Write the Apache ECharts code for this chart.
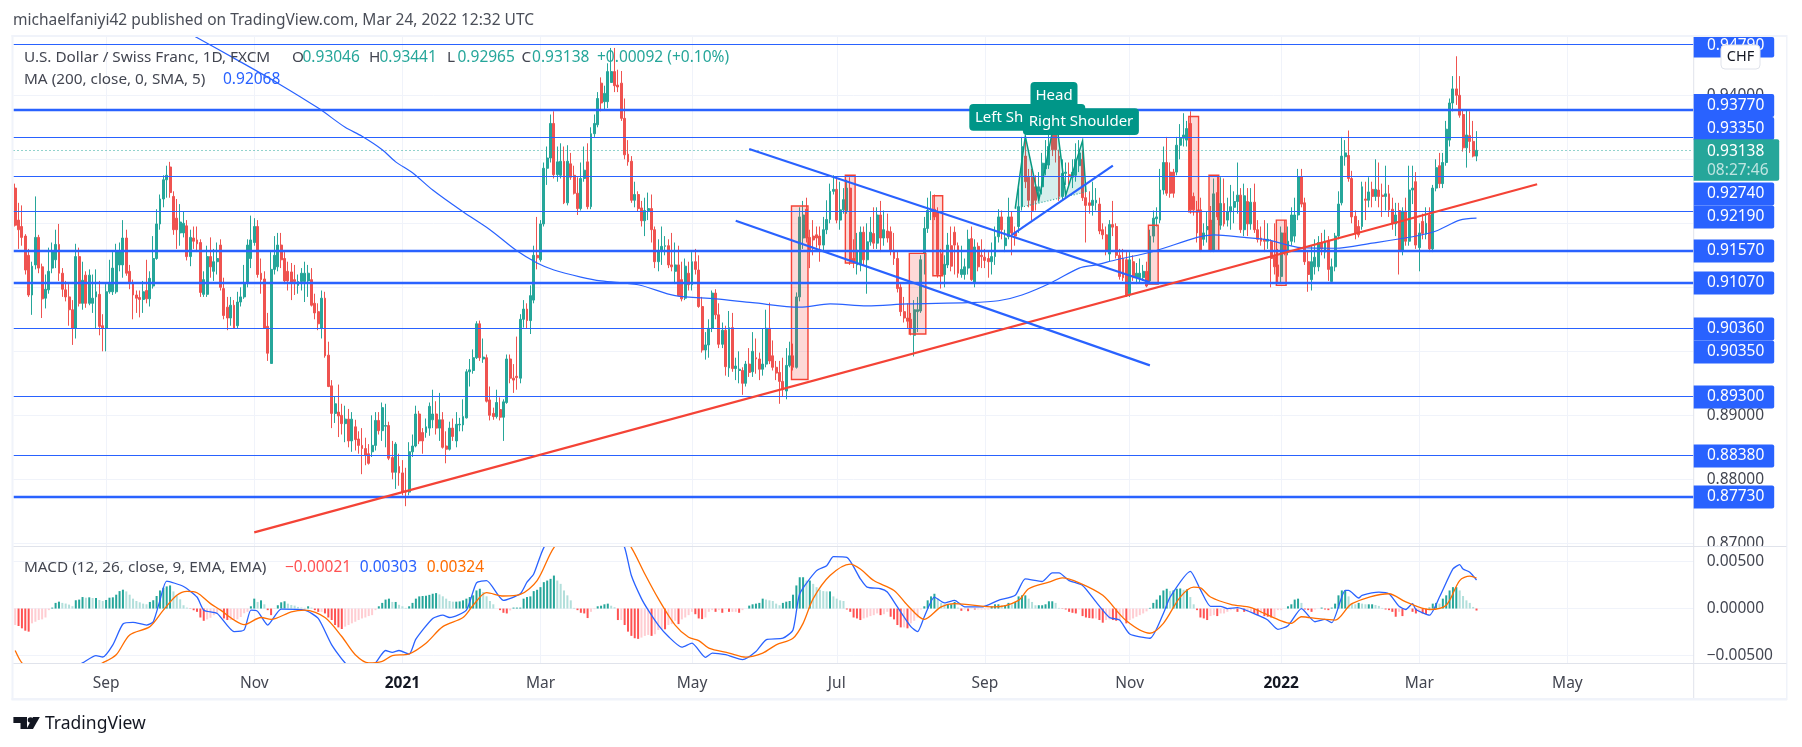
<!DOCTYPE html>
<html>
<head>
<meta charset="utf-8">
<title>USDCHF</title>
<script src="https://cdn.jsdelivr.net/npm/echarts@6/dist/echarts.min.js"></script>
<style>
html, body { margin: 0; padding: 0; background: #fff; }
#main { width: 1802px; height: 747px; }
</style>
</head>
<body>
<div id="main"></div>
<script>
// daily candles in pips (price x 10000): open, high, low, close. index 0 = 24 Jul 2020
var candles = [
[9255,9262,9195,9197],[9205,9232,9160,9190],[9195,9228,9165,9178],[9180,9183,9120,9127],[9150,9160,9085,9088],[9088,9140,9057,9133],[9135,9242,9128,9178],[9178,9182,9122,9130],[9132,9137,9052,9082],[9083,9120,9067,9097],
[9096,9162,9090,9125],[9130,9170,9122,9156],[9143,9190,9130,9167],[9167,9199,9110,9122],[9122,9130,9085,9097],[9096,9110,9078,9085],[9085,9105,9040,9065],[9065,9080,9010,9036],[9036,9168,9020,9148],[9148,9162,9070,9075],
[9075,9140,9065,9111],[9119,9125,9068,9075],[9075,9128,9072,9119],[9075,9120,9060,9083],[9085,9128,9036,9093],[9089,9110,9025,9039],[9040,9058,9000,9036],[9036,9105,9000,9093],[9093,9143,9090,9107],[9093,9155,9088,9130],
[9093,9168,9090,9157],[9135,9170,9125,9157],[9135,9205,9115,9177],[9177,9190,9118,9122],[9125,9135,9097,9107],[9107,9112,9050,9088],[9088,9095,9060,9083],[9084,9095,9053,9081],[9081,9110,9060,9093],[9095,9143,9075,9082],
[9082,9125,9070,9114],[9102,9180,9098,9145],[9145,9222,9143,9199],[9199,9245,9190,9238],[9238,9275,9225,9268],[9268,9290,9240,9275],[9288,9296,9240,9248],[9242,9250,9182,9190],[9208,9238,9160,9190],[9185,9230,9165,9202],
[9185,9218,9178,9200],[9196,9205,9142,9148],[9148,9190,9133,9178],[9177,9195,9160,9172],[9174,9195,9155,9168],[9170,9175,9085,9092],[9089,9125,9085,9112],[9089,9165,9085,9148],[9148,9178,9115,9132],[9125,9160,9110,9140],
[9140,9170,9120,9145],[9166,9175,9095,9100],[9098,9115,9050,9056],[9069,9085,9033,9052],[9052,9085,9040,9072],[9072,9080,9035,9036],[9040,9093,9035,9077],[9077,9100,9070,9085],[9085,9135,9082,9107],[9106,9175,9100,9166],
[9145,9212,9130,9174],[9170,9208,9165,9195],[9195,9205,9115,9120],[9122,9145,9090,9112],[9113,9125,9036,9036],[9039,9060,8985,8997],[8981,9155,8981,9128],[9128,9180,9120,9150],[9132,9185,9125,9166],[9166,9185,9130,9143],
[9145,9155,9105,9110],[9125,9140,9095,9110],[9124,9138,9080,9108],[9112,9135,9088,9109],[9103,9120,9090,9109],[9109,9130,9095,9122],[9109,9140,9077,9122],[9110,9135,9085,9122],[9112,9130,9070,9072],[9075,9090,9050,9060],
[9062,9075,9033,9043],[9036,9095,9020,9083],[9083,9093,8990,8993],[8994,9015,8944,8945],[8946,8955,8880,8903],[8903,8930,8888,8918],[8905,8948,8866,8899],[8900,8918,8870,8887],[8887,8915,8858,8894],[8894,8910,8850,8860],
[8860,8905,8843,8894],[8882,8893,8845,8862],[8863,8875,8840,8853],[8853,8880,8808,8848],[8848,8865,8822,8838],[8840,8855,8823,8825],[8843,8900,8835,8853],[8853,8905,8845,8892],[8892,8905,8870,8876],[8876,8920,8860,8912],
[8883,8918,8850,8884],[8884,8890,8830,8833],[8834,8860,8800,8811],[8811,8858,8785,8855],[8820,8840,8790,8810],[8810,8830,8775,8780],[8782,8818,8758,8780],[8780,8858,8775,8843],[8843,8870,8835,8852],[8852,8915,8850,8902],
[8902,8907,8855,8860],[8873,8880,8840,8860],[8873,8895,8865,8882],[8880,8920,8868,8914],[8893,8940,8880,8902],[8902,8922,8870,8880],[8880,8935,8860,8893],[8893,8905,8848,8850],[8852,8875,8825,8847],[8847,8890,8845,8880],
[8880,8895,8860,8867],[8860,8905,8850,8886],[8885,8896,8875,8886],[8885,8925,8875,8898],[8896,8972,8895,8968],[8968,8988,8945,8971],[8970,9003,8965,8990],[8990,9047,8988,9043],[9043,9048,8985,8990],[8988,9020,8982,8991],
[8990,8995,8920,8922],[8924,8945,8892,8900],[8903,8912,8893,8898],[8898,8940,8895,8920],[8909,8928,8892,8897],[8897,8925,8860,8921],[8920,8995,8918,8988],[8988,8995,8950,8958],[8958,8980,8935,8955],[8961,9023,8940,8959],
[8958,9058,8950,9050],[9050,9080,9037,9066],[9066,9075,9035,9048],[9048,9103,9027,9087],[9080,9165,9075,9150],[9150,9210,9128,9146],[9143,9205,9140,9199],[9199,9295,9195,9286],[9286,9320,9260,9302],[9302,9370,9295,9356],
[9356,9375,9270,9276],[9276,9320,9265,9296],[9275,9325,9270,9297],[9297,9320,9230,9232],[9232,9322,9228,9297],[9293,9310,9268,9272],[9275,9290,9245,9247],[9247,9272,9213,9223],[9223,9295,9220,9270],[9270,9320,9265,9283],
[9296,9325,9222,9226],[9226,9350,9222,9340],[9340,9370,9335,9356],[9354,9405,9350,9395],[9419,9428,9375,9388],[9390,9415,9378,9403],[9390,9450,9380,9437],[9420,9474,9420,9437],[9437,9474,9405,9415],[9416,9440,9405,9413],
[9419,9438,9360,9364],[9364,9395,9300,9307],[9308,9330,9290,9296],[9297,9305,9232,9236],[9236,9265,9225,9245],[9245,9250,9218,9223],[9224,9235,9195,9204],[9204,9240,9180,9220],[9220,9248,9205,9223],[9223,9245,9170,9190],
[9190,9195,9130,9140],[9140,9175,9125,9156],[9156,9195,9135,9164],[9164,9180,9150,9165],[9165,9175,9130,9135],[9135,9185,9125,9132],[9125,9170,9105,9135],[9135,9165,9086,9087],[9112,9140,9078,9082],[9083,9145,9080,9133],
[9122,9140,9095,9104],[9104,9155,9095,9140],[9140,9160,9120,9128],[9127,9150,9068,9070],[9070,9085,8998,9002],[9002,9030,8987,9010],[9010,9050,8990,9036],[9036,9095,9030,9091],[9091,9097,9050,9057],[9057,9075,9005,9011],
[9011,9045,9005,9033],[9033,9040,8962,8976],[8974,9063,8960,9037],[9037,9060,8968,8973],[8973,8990,8955,8977],[8970,9000,8950,8972],[8970,8975,8932,8950],[8950,8985,8945,8980],[8980,9005,8960,8967],[8968,9030,8960,9000],
[8990,9020,8965,8988],[8988,8998,8955,8972],[8972,9035,8962,8980],[8980,9065,8975,9036],[9036,9076,8980,8985],[8993,9017,8970,8975],[8975,8985,8955,8966],[8967,8985,8918,8953],[8953,8990,8930,8940],[8938,9005,8925,8978],
[8978,9015,8975,8993],[8993,9012,8970,8975],[8975,9092,8973,9085],[9085,9225,9078,9210],[9177,9235,9160,9213],[9222,9240,9170,9177],[9178,9190,9130,9158],[9180,9205,9150,9174],[9182,9195,9162,9177],[9180,9195,9140,9166],
[9166,9210,9155,9190],[9190,9236,9183,9206],[9206,9262,9200,9250],[9250,9275,9245,9253],[9253,9272,9200,9205],[9205,9265,9190,9221],[9221,9255,9215,9237],[9220,9268,9215,9255],[9255,9272,9135,9140],[9145,9175,9130,9140],
[9135,9185,9120,9158],[9135,9195,9125,9186],[9186,9195,9135,9143],[9143,9200,9090,9171],[9171,9210,9165,9186],[9184,9225,9160,9169],[9169,9225,9160,9213],[9213,9235,9155,9177],[9177,9220,9165,9190],[9188,9215,9170,9177],
[9187,9195,9150,9156],[9158,9185,9135,9145],[9145,9155,9092,9098],[9100,9105,9055,9062],[9062,9085,9045,9052],[9052,9075,9035,9047],[9050,9060,9025,9036],[9025,9080,8992,9065],[9062,9085,9030,9065],[9063,9150,9060,9143],
[9153,9210,9120,9192],[9192,9240,9185,9220],[9220,9250,9205,9222],[9222,9245,9205,9210],[9218,9225,9115,9120],[9152,9160,9098,9120],[9120,9150,9100,9136],[9135,9185,9130,9166],[9165,9195,9125,9133],[9186,9195,9120,9166],
[9165,9170,9115,9122],[9120,9165,9115,9128],[9120,9145,9112,9132],[9130,9190,9120,9175],[9176,9195,9110,9112],[9108,9175,9100,9163],[9164,9170,9125,9132],[9150,9175,9130,9148],[9147,9160,9130,9142],[9145,9155,9115,9140],
[9140,9170,9120,9148],[9148,9195,9135,9179],[9179,9222,9170,9210],[9210,9220,9175,9190],[9165,9190,9155,9177],[9179,9240,9175,9210],[9210,9218,9150,9185],[9185,9195,9165,9180],[9195,9255,9185,9226],[9226,9335,9220,9320],
[9305,9330,9255,9265],[9272,9285,9225,9236],[9272,9285,9205,9220],[9257,9275,9220,9236],[9250,9280,9235,9257],[9257,9310,9245,9294],[9285,9330,9275,9294],[9291,9340,9285,9320],[9356,9369,9305,9315],[9340,9352,9295,9315],
[9305,9315,9235,9242],[9242,9300,9236,9278],[9278,9295,9260,9280],[9276,9295,9260,9273],[9272,9300,9255,9280],[9275,9325,9265,9300],[9290,9330,9280,9310],[9300,9315,9235,9240],[9240,9258,9170,9228],[9232,9250,9215,9228],
[9228,9265,9212,9236],[9232,9255,9220,9236],[9230,9240,9183,9188],[9190,9200,9175,9182],[9182,9195,9150,9158],[9152,9205,9140,9198],[9198,9235,9180,9194],[9195,9200,9145,9150],[9150,9160,9112,9117],[9145,9160,9110,9115],
[9143,9155,9085,9088],[9090,9155,9085,9143],[9140,9150,9110,9115],[9115,9138,9105,9122],[9115,9145,9108,9122],[9115,9135,9110,9125],[9125,9140,9100,9102],[9110,9190,9108,9180],[9180,9220,9170,9208],[9207,9225,9195,9210],
[9205,9285,9200,9252],[9252,9320,9245,9295],[9295,9335,9243,9247],[9280,9295,9240,9247],[9280,9285,9240,9247],[9280,9335,9275,9322],[9322,9355,9300,9333],[9333,9372,9320,9338],[9330,9360,9320,9348],[9356,9375,9215,9221],
[9242,9248,9212,9221],[9221,9235,9170,9185],[9221,9240,9155,9158],[9175,9200,9165,9185],[9190,9218,9170,9195],[9205,9227,9155,9158],[9157,9270,9155,9246],[9248,9275,9205,9210],[9197,9272,9190,9231],[9231,9270,9195,9199],
[9205,9240,9195,9218],[9218,9260,9190,9226],[9225,9250,9200,9234],[9234,9295,9215,9244],[9244,9255,9185,9190],[9190,9262,9180,9243],[9234,9255,9180,9199],[9199,9255,9190,9233],[9233,9262,9185,9190],[9190,9205,9170,9175],
[9177,9195,9165,9172],[9175,9205,9155,9172],[9172,9200,9160,9175],[9172,9175,9100,9145],[9148,9200,9120,9132],[9135,9160,9105,9117],[9117,9195,9105,9185],[9185,9205,9150,9155],[9155,9195,9150,9172],[9172,9225,9165,9213],
[9180,9240,9170,9213],[9213,9285,9205,9273],[9273,9285,9225,9230],[9232,9240,9135,9140],[9140,9155,9093,9120],[9112,9165,9095,9140],[9132,9175,9120,9147],[9132,9180,9125,9170],[9170,9185,9150,9160],[9155,9190,9145,9172],
[9172,9180,9110,9128],[9109,9145,9107,9132],[9132,9185,9125,9180],[9180,9250,9175,9230],[9232,9335,9228,9305],[9304,9330,9290,9310],[9306,9345,9265,9270],[9270,9282,9200,9210],[9211,9220,9175,9185],[9195,9205,9178,9182],
[9195,9265,9190,9257],[9238,9265,9205,9236],[9236,9272,9225,9249],[9253,9265,9225,9242],[9242,9300,9235,9253],[9252,9295,9225,9242],[9244,9262,9210,9242],[9242,9290,9220,9246],[9246,9260,9210,9221],[9222,9240,9190,9200],
[9199,9232,9180,9213],[9220,9232,9120,9158],[9158,9225,9150,9219],[9219,9240,9165,9172],[9172,9290,9165,9252],[9252,9290,9230,9255],[9265,9280,9160,9166],[9162,9200,9125,9185],[9203,9215,9175,9184],[9183,9225,9175,9200],
[9213,9225,9155,9160],[9160,9260,9155,9255],[9255,9300,9250,9287],[9290,9310,9255,9262],[9262,9310,9255,9295],[9295,9360,9290,9347],[9330,9395,9320,9388],[9388,9430,9375,9410],[9410,9461,9385,9400],[9400,9430,9365,9369],
[9370,9378,9312,9318],[9318,9378,9287,9338],[9337,9375,9310,9328],[9328,9360,9303,9305],[9305,9344,9297,9314]
];

// 200 day moving average: [bar index, pips]
var maPoints = [[53,9493],[66,9455],[78,9419],[90,9380],[98,9350],[103,9336],[109,9315],[113,9296],[118,9279],[124,9252],[133,9218],[141,9190],[149,9157],[155,9138],[160,9127],[168,9116],[174,9110],[185,9104],[196,9087],[208,9082],[219,9076],[233,9069],[242,9074],[253,9071],[265,9074],[283,9076],[292,9079],[299,9088],[308,9108],[316,9130],[321,9135],[327,9143],[338,9156],[351,9178],[356,9182],[365,9178],[372,9174],[382,9162],[392,9161],[403,9169],[415,9179],[422,9188],[429,9205],[434,9208]];

// MACD in 1e-5 units
var macdPoints = [[0,-900],[10,-760],[20,-577],[24,-500],[26,-514],[29,-385],[32,-164],[35,-147],[39,-175],[41,-140],[43,87],[45,290],[50,234],[54,122],[56,-17],[60,-52],[65,-245],[68,-227],[70,-17],[72,-30],[75,-175],[79,-7],[86,-17],[90,-105],[94,-385],[98,-577],[103,-700],[107,-577],[110,-445],[112,-465],[114,-445],[117,-483],[119,-325],[124,-105],[127,-70],[129,-95],[134,-17],[137,273],[140,297],[145,87],[150,157],[152,280],[154,367],[157,647],[165,1050],[172,1100],[177,950],[181,647],[183,350],[186,105],[188,-17],[191,-175],[194,-297],[198,-410],[201,-367],[205,-518],[207,-472],[211,-490],[216,-542],[220,-455],[223,-332],[228,-315],[231,-227],[233,157],[238,402],[241,455],[243,550],[247,542],[251,315],[253,227],[257,210],[259,175],[262,17],[266,-192],[268,-245],[270,-87],[273,122],[276,60],[279,87],[282,17],[287,17],[292,87],[297,140],[300,315],[305,287],[308,378],[310,378],[313,297],[317,245],[321,70],[325,-95],[328,-122],[331,-270],[337,-315],[341,-52],[343,122],[349,395],[352,200],[355,24],[358,24],[360,0],[363,10],[369,-70],[372,-122],[375,-220],[378,-182],[382,0],[386,-140],[389,-115],[391,-150],[395,192],[396,192],[399,112],[400,140],[405,175],[408,157],[411,24],[413,-10],[415,52],[416,-10],[420,-70],[423,122],[427,420],[429,465],[430,420],[432,385],[434,303]];
var signalPoints = [[0,-445],[2,-577],[8,-800],[18,-720],[26,-577],[30,-490],[34,-280],[40,-192],[44,-17],[48,140],[51,182],[54,168],[58,52],[61,-17],[65,-122],[68,-171],[73,-95],[76,-115],[82,-35],[86,-17],[92,-95],[97,-297],[101,-490],[105,-577],[109,-560],[112,-500],[117,-480],[122,-367],[127,-192],[133,-95],[136,35],[140,168],[145,133],[150,150],[155,297],[160,647],[168,950],[176,1000],[183,647],[187,367],[191,105],[196,-175],[200,-305],[203,-340],[206,-420],[212,-472],[217,-515],[222,-472],[226,-385],[231,-315],[234,-157],[237,105],[242,350],[248,472],[251,420],[255,297],[261,192],[265,35],[270,-115],[275,17],[279,52],[291,17],[298,87],[301,210],[307,280],[311,325],[316,273],[323,140],[330,-130],[337,-262],[341,-157],[346,122],[350,227],[352,220],[355,122],[361,45],[367,10],[371,-52],[376,-130],[379,-157],[382,-87],[387,-108],[392,-122],[397,52],[408,157],[413,70],[420,-10],[425,35],[429,297],[432,343],[434,324]];
var histValues = [
-175,-185,-210,-235,-245,-157,-140,-122,-115,-95,-17,
10,60,73,60,53,42,25,88,95,122,
115,119,112,112,91,80,91,115,119,147,
185,200,182,147,105,80,66,52,45,70,
88,133,192,220,235,245,182,140,98,35,
10,-3,-18,-35,-95,-130,-115,-98,-70,-45,
-17,-105,-122,-122,-122,-115,-90,-50,-35,24,
105,70,87,45,-17,-70,-5,35,66,77,
52,38,31,17,10,7,24,10,-17,-35,
-35,-52,-95,-122,-175,-200,-217,-192,-175,-157,
-140,-122,-105,-95,-80,-70,-17,24,60,95,
105,70,70,40,24,7,24,60,105,129,
133,136,145,157,164,150,130,105,80,73,
73,76,87,105,122,140,192,210,175,130,
80,45,0,-17,-45,-52,-20,10,10,10,
105,122,129,185,199,227,280,297,315,350,
297,262,192,140,87,7,-17,-45,-52,-101,
-35,-7,24,30,45,52,30,14,
-122,-122,-175,-245,-290,-315,-322,-308,-290,-280,-290,-273,
-228,-217,-220,-175,-165,-130,-165,-115,-95,-70,
-35,-60,-105,-112,-95,-35,-17,-35,-17,-45,
-7,-35,-35,-35,-45,-17,0,31,45,52,
60,105,95,87,80,52,35,60,73,80,
147,245,332,332,297,297,262,227,199,185,
182,182,129,105,87,80,-10,-35,-95,-105,
-122,-105,-95,-80,-70,-52,-70,-60,-35,-87,
-115,-175,-200,-200,-210,-157,-130,-95,-10,24,
87,129,157,105,60,45,45,45,70,10,
-24,-10,-28,-3,-10,-10,-10,-10,-10,
24,45,45,35,35,60,45,70,129,140,140,
105,70,35,35,35,45,77,77,60,7,
-3,-10,-35,-45,-52,-10,-80,-95,-101,-105,
-105,-122,-150,-122,-115,-122,-130,-122,-95,-157,
-122,-105,-87,-70,-52,-30,7,60,95,140,
192,210,185,192,210,213,199,203,122,45,-17,
-95,-105,-122,-80,-70,-80,-52,-52,-35,
-17,-10,-35,-3,-35,-35,-35,-52,-70,-52,
-80,-87,-95,-95,-17,-17,0,24,45,95,
105,60,-10,-17,-35,-10,0,10,-10,-17,
10,52,140,192,192,129,52,45,60,52,
45,45,45,38,28,7,-10,-17,-35,-87,
-35,-80,-17,0,-35,-52,-35,-52,-59,10,
52,60,52,105,140,192,227,227,192,133,87,60,17,-21
];

// horizontal levels drawn on the chart
var thinLevels = [0.9479, 0.9335, 0.9274, 0.9219, 0.9036, 0.8930, 0.8838];
var thickLevels = [0.9377, 0.9157, 0.9107, 0.8773];
var lastPrice = 0.93138;

// drawn trend lines: [bar, pips] pairs
var redTrend = [[71,8717],[452,9261]];
var blueUpper = [[218,9316],[337,9108]];
var blueLower = [[214,9204],[337,8978]];
var blueShort = [[296,9182],[326,9290]];

// highlighted boxes: first bar, last bar, top pips, bottom pips
var boxes = [[231,235,9227,8956],[247,249,9275,9138],[266,270,9153,9027],[273,275,9243,9118],[337,339,9197,9105],[349,351,9367,9218],[355,357,9275,9157],[375,377,9205,9103]];

// head and shoulders outline
var patternBars = [297,300,304,309,312,317,318];
var patternPips = [9223,9336,9236,9369,9244,9329,9249];

var priceTicks = [0.87,0.88,0.89,0.90,0.91,0.92,0.93,0.94];
var macdTicks = [-0.005,0,0.005];
var timeTickBars = [27,71,115,156,201,244,288,331,376,417,461];
var timeTickText = ['Sep','Nov','2021','Mar','May','Jul','Sep','Nov','2022','Mar','May'];

var priceBoxText = ['0.94790','0.93770','0.93350','0.92740','0.92190','0.91570','0.91070','0.90360','0.90350','0.89300','0.88380','0.87730'];
var priceBoxY = [46,105.5,128.5,194,217,251,283,329,352,397,456,497];

// weekday calendar for the category axis (runs past the last candle into May 2022)
var categories = [];
(function () {
    var d = new Date(Date.UTC(2020, 6, 24));
    while (categories.length < 499) {
        var w = d.getUTCDay();
        if (w !== 0 && w !== 6) categories.push(d.toISOString().slice(0, 10));
        d = new Date(d.getTime() + 86400000);
    }
})();

var FONT = '"Noto Sans", sans-serif';
var BLUE = '#2962ff', UP = '#26a69a', DOWN = '#ef5350', GRID = '#f0f3fa', EDGE = '#e0e3eb', TXT = '#434651', RED = '#f44336';

function pips(rows) {
    return rows.map(function (r) { return [r[0], r[1] / 10000]; });
}
function macdUnits(rows) {
    return rows.map(function (r) { return [r[0], r[1] / 100000]; });
}
function trendLine(rows, color) {
    return {
        type: 'line', xAxisIndex: 0, yAxisIndex: 0, data: pips(rows), symbol: 'none', silent: true, z: 6,
        lineStyle: { color: color, width: 2.2 }
    };
}

var candleData = candles.map(function (c) { return [c[0] / 10000, c[3] / 10000, c[2] / 10000, c[1] / 10000]; });

var histData = histValues.map(function (v, i) {
    var prev = i > 0 ? histValues[i - 1] : v;
    var color = v >= 0 ? (v >= prev ? '#26a69a' : '#b2dfdb') : (v < prev ? '#ff5252' : '#ffcdd2');
    return { value: v / 100000, itemStyle: { color: color } };
});

var levelLines = thinLevels.map(function (v) {
    return { yAxis: v, lineStyle: { color: BLUE, width: 1.2, type: 'solid' } };
}).concat(thickLevels.map(function (v) {
    return { yAxis: v, lineStyle: { color: BLUE, width: 2.4, type: 'solid' } };
}));
levelLines.push({ yAxis: lastPrice, lineStyle: { color: UP, width: 1, type: [1, 3] } });

function timeGridLines() {
    return timeTickBars.map(function (b) { return { xAxis: b }; });
}

function renderBox(params, api) {
    var band = api.size([1, 0])[0];
    var a = api.coord([api.value(0), api.value(2)]);
    var b = api.coord([api.value(1), api.value(3)]);
    return {
        type: 'rect',
        shape: { x: a[0] - band * 0.45, y: a[1], width: b[0] - a[0] + band * 0.9, height: b[1] - a[1] },
        style: { fill: 'rgba(244,67,54,0.2)', stroke: RED, lineWidth: 1.4 }
    };
}

function renderPattern(params, api) {
    var pts = patternBars.map(function (b, i) { return api.coord([b, patternPips[i] / 10000]); });
    return {
        type: 'group',
        children: [
            { type: 'polygon', shape: { points: pts }, style: { fill: 'rgba(0,150,136,0.16)', stroke: 'none' } },
            { type: 'polyline', shape: { points: pts }, style: { fill: 'none', stroke: '#089981', lineWidth: 1.5 } },
            { type: 'line', shape: { x1: pts[0][0], y1: pts[0][1], x2: pts[6][0], y2: pts[6][1] }, style: { stroke: '#26a69a', lineWidth: 1.2, lineDash: [1, 2] } }
        ]
    };
}

// fixed page furniture: frame, legends, axis badges
var graphics = [];
function addRect(x, y, w, h, fill, z, r) {
    graphics.push({ type: 'rect', z: z || 50, silent: true, shape: { x: x, y: y, width: w, height: h, r: r || 0 }, style: { fill: fill } });
}
function addText(x, y, text, font, fill, z, extra) {
    var style = { x: x, y: y, text: text, font: font, fill: fill, textVerticalAlign: 'middle' };
    for (var k in (extra || {})) style[k] = extra[k];
    graphics.push({ type: 'text', z: z || 60, silent: true, style: style });
}

// frame bands
addRect(11.5, 35, 1775.5, 2, GRID);
addRect(11.5, 698, 1775.5, 2.5, GRID);
addRect(11.5, 35, 2, 665, GRID);
addRect(1786, 35, 1.5, 665, GRID);
addRect(1693.2, 37, 1, 661, EDGE);
addRect(13.5, 546, 1773, 1, EDGE);
addRect(13.5, 663, 1773, 1, EDGE);
addRect(1694.2, 547, 92, 7, '#fff', 40);

addText(13, 21, 'michaelfaniyi42 published on TradingView.com, Mar 24, 2022 12:32 UTC', '15.5px ' + FONT, '#4a4e58');

var legendFont = '15.3px ' + FONT;
var numFont = '15.5px ' + FONT;
// symbol legend row
addText(24, 57.5, 'U.S. Dollar / Swiss Franc, 1D, FXCM', legendFont, TXT);
var ohlcLetters = ['O', 'H', 'L', 'C'];
var ohlcValues = ['0.93046', '0.93441', '0.92965', '0.93138'];
var ohlcX = [292, 369, 447, 521.6];
ohlcLetters.forEach(function (l, i) {
    addText(ohlcX[i], 57.5, l, legendFont, TXT);
    addText(ohlcX[i] + 10.5, 57.5, ohlcValues[i], numFont, UP);
});
addText(597, 57.5, '+0.00092 (+0.10%)', numFont, UP);
// moving average row
addText(24, 80, 'MA (200, close, 0, SMA, 5)', legendFont, TXT);
addText(223, 80, '0.92068', numFont, BLUE);
// MACD row
addText(24, 568, 'MACD (12, 26, close, 9, EMA, EMA)', legendFont, TXT);
addText(285, 568, '\u22120.00021', numFont, '#ff5252');
addText(359.7, 568, '0.00303', numFont, BLUE);
addText(426.7, 568, '0.00324', numFont, '#ff6d00');

// price badges on the axis
priceBoxText.forEach(function (t, i) {
    var y = priceBoxY[i];
    var top = Math.max(37, y - 11.5);
    addRect(1693.7, top, 80.5, y + 11.5 - top, BLUE, 70, [0, 2, 2, 0]);
    addText(1707, y, t, '15.5px ' + FONT, '#fff', 71);
});
addRect(1693.7, 139.3, 85.5, 41.4, UP, 72, [0, 2, 2, 0]);
addText(1707, 151.5, '0.93138', '15.5px ' + FONT, '#fff', 73);
addText(1707, 170.5, '08:27:46', '15.5px ' + FONT, 'rgba(255,255,255,0.7)', 73);

// currency button
graphics.push({ type: 'rect', z: 74, silent: true, shape: { x: 1721, y: 45, width: 39, height: 24, r: 4 }, style: { fill: '#fff', stroke: EDGE, lineWidth: 1 } });
addText(1740.5, 57, 'CHF', '14.5px ' + FONT, '#131722', 75, { textAlign: 'center' });

// pattern callouts
var CALLOUT = '#009688';
addRect(969.3, 104, 116, 26.7, CALLOUT, 20, 4);
addText(975, 117.5, 'Left Shoulder', '15px ' + FONT, '#fff', 21);
addRect(1030.5, 82, 47, 27, CALLOUT, 22, 4);
addText(1054, 95.5, 'Head', '15px ' + FONT, '#fff', 23, { textAlign: 'center' });
addRect(1022.9, 108.3, 116, 26.7, CALLOUT, 24, 4);
addText(1081, 122, 'Right Shoulder', '15px ' + FONT, '#fff', 25, { textAlign: 'center' });

// logo
graphics.push({ type: 'polygon', z: 60, silent: true, shape: { points: [[13.4,717],[27,717],[27,729],[20.5,729],[20.5,723],[13.4,723]] }, style: { fill: '#131722' } });
graphics.push({ type: 'circle', z: 60, silent: true, shape: { cx: 30.5, cy: 720, r: 2.8 }, style: { fill: '#131722' } });
graphics.push({ type: 'polygon', z: 60, silent: true, shape: { points: [[33,717],[39.8,717],[33,729],[26.5,729]] }, style: { fill: '#131722' } });
addText(45, 724, 'TradingView', '17.5px ' + FONT, '#131722');

var myChart = echarts.init(document.getElementById('main'), null, { renderer: 'canvas' });

var option = {
    animation: false,
    backgroundColor: '#fff',
    textStyle: { fontFamily: 'Noto Sans' },
    graphic: { elements: graphics },
    grid: [
        { left: 13.5, width: 1680.2, top: 37, height: 509 },
        { left: 13.5, width: 1680.2, top: 547, height: 116.3 }
    ],
    xAxis: [
        {
            type: 'category', gridIndex: 0, data: categories, boundaryGap: true,
            axisLine: { show: false }, axisTick: { show: false }, axisLabel: { show: false }, splitLine: { show: false }
        },
        {
            type: 'category', gridIndex: 1, data: categories, boundaryGap: true,
            axisLine: { show: false }, axisTick: { show: false }, splitLine: { show: false },
            axisLabel: {
                interval: function (index) { return timeTickBars.indexOf(index) >= 0; },
                formatter: function (value, index) {
                    var t = timeTickText[timeTickBars.indexOf(index)];
                    return /^20/.test(t) ? '{y|' + t + '}' : t;
                },
                margin: 12, fontSize: 15.5, color: TXT, fontFamily: 'Noto Sans', hideOverlap: false,
                rich: { y: { fontSize: 15.5, fontWeight: 'bold', color: '#131722', fontFamily: 'Noto Sans' } }
            }
        }
    ],
    yAxis: [
        {
            type: 'value', gridIndex: 0, position: 'right', min: 0.86958, max: 0.94911, scale: true,
            axisLine: { show: false }, axisTick: { show: false, customValues: priceTicks },
            splitLine: { show: true, lineStyle: { color: GRID, width: 1 } },
            axisLabel: {
                customValues: priceTicks, margin: 13, fontSize: 15.5, color: TXT, fontFamily: 'Noto Sans',
                showMinLabel: true, showMaxLabel: true,
                formatter: function (v) { return v.toFixed(5); }
            }
        },
        {
            type: 'value', gridIndex: 1, position: 'right', min: -0.00581, max: 0.00653, scale: true,
            axisLine: { show: false }, axisTick: { show: false, customValues: macdTicks },
            splitLine: { show: true, lineStyle: { color: GRID, width: 1 } },
            axisLabel: {
                customValues: macdTicks, margin: 13, fontSize: 15.5, color: TXT, fontFamily: 'Noto Sans',
                formatter: function (v) { return v.toFixed(5).replace('-', '\u2212'); }
            }
        }
    ],
    series: [
        // time gridlines, pane by pane
        {
            type: 'line', xAxisIndex: 0, yAxisIndex: 0, data: [], silent: true, z: 0,
            markLine: { silent: true, symbol: 'none', animation: false, z: 1, label: { show: false }, lineStyle: { color: GRID, width: 1, type: 'solid' }, data: timeGridLines() }
        },
        {
            type: 'line', xAxisIndex: 1, yAxisIndex: 1, data: [], silent: true, z: 0,
            markLine: { silent: true, symbol: 'none', animation: false, z: 1, label: { show: false }, lineStyle: { color: GRID, width: 1, type: 'solid' }, data: timeGridLines() }
        },
        {
            type: 'candlestick', xAxisIndex: 0, yAxisIndex: 0, data: candleData, barWidth: 2.4, z: 3, silent: true,
            itemStyle: { color: UP, color0: DOWN, borderColor: UP, borderColor0: DOWN, borderWidth: 1 },
            markLine: { silent: true, symbol: 'none', animation: false, z: 5, precision: 6, label: { show: false }, data: levelLines }
        },
        {
            type: 'custom', xAxisIndex: 0, yAxisIndex: 0, data: boxes.map(function (b) { return [b[0], b[1], b[2] / 10000, b[3] / 10000]; }),
            encode: { x: [0, 1], y: [2, 3] }, renderItem: renderBox, silent: true, z: 4
        },
        {
            type: 'custom', xAxisIndex: 0, yAxisIndex: 0, data: [[patternBars[0], patternPips[0] / 10000]],
            encode: { x: 0, y: 1 }, renderItem: renderPattern, silent: true, z: 4, clip: false
        },
        {
            type: 'line', xAxisIndex: 0, yAxisIndex: 0, data: pips(maPoints), symbol: 'none', smooth: 0.3, silent: true, z: 6,
            lineStyle: { color: BLUE, width: 1.2 }
        },
        trendLine(redTrend, RED),
        trendLine(blueUpper, BLUE),
        trendLine(blueLower, BLUE),
        trendLine(blueShort, BLUE),
        {
            type: 'bar', xAxisIndex: 1, yAxisIndex: 1, data: histData, barWidth: 2, silent: true, z: 3
        },
        {
            type: 'line', xAxisIndex: 1, yAxisIndex: 1, data: macdUnits(macdPoints), symbol: 'none', smooth: 0.2, silent: true, z: 5,
            lineStyle: { color: BLUE, width: 1.3 }
        },
        {
            type: 'line', xAxisIndex: 1, yAxisIndex: 1, data: macdUnits(signalPoints), symbol: 'none', smooth: 0.3, silent: true, z: 6,
            lineStyle: { color: '#ff6d00', width: 1.3 }
        }
    ]
};

myChart.setOption(option);
</script>
</body>
</html>
